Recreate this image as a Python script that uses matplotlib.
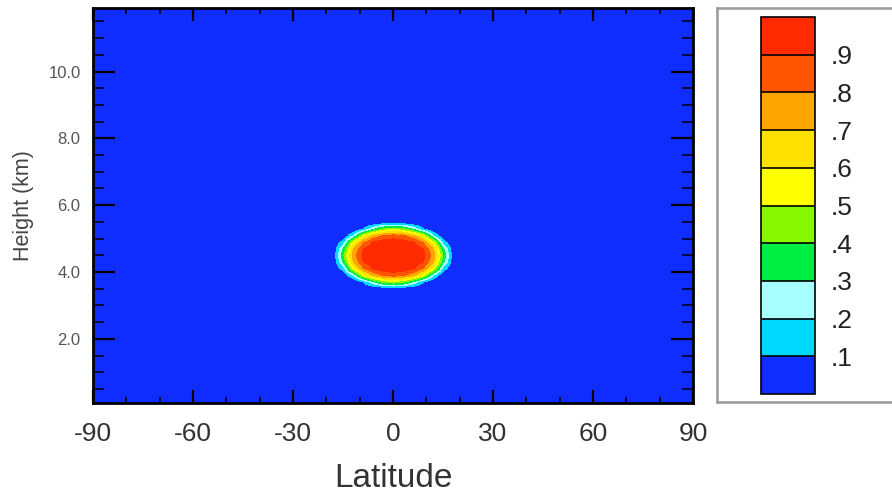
import numpy as np
import matplotlib
matplotlib.use("Agg")
import matplotlib.pyplot as plt
from matplotlib.colors import ListedColormap, BoundaryNorm
from matplotlib.cm import ScalarMappable
from matplotlib.ticker import MultipleLocator, FormatStrFormatter

plt.rcParams['font.family'] = ['Liberation Sans', 'DejaVu Sans']
plt.rcParams['axes.unicode_minus'] = False

# field values (blob around lat 0, 4.5 km)
lats = [-21, -18, -15, -12, -9, -6, -3, 0, 3, 6, 9, 12, 15, 18, 21]
heights = [3.3, 3.5, 3.7, 3.9, 4.1, 4.3, 4.5, 4.7, 4.9, 5.1, 5.3, 5.5, 5.7]
field = np.array([
    [0, 0, 0, 0, 0, 0, 0, 0, 0, 0, 0, 0, 0, 0, 0],
    [0, 0, 0, 0, 0, 0, .02, .03, .02, 0, 0, 0, 0, 0, 0],
    [0, 0, 0, 0, .11, .29, .44, .49, .44, .29, .11, 0, 0, 0, 0],
    [0, 0, .01, .21, .54, .73, .82, .86, .82, .73, .54, .21, .01, 0, 0],
    [0, 0, .15, .55, .80, .92, .96, .96, .96, .92, .80, .55, .15, 0, 0],
    [0, .01, .32, .71, .91, .96, .97, .97, .97, .96, .91, .71, .32, .01, 0],
    [0, .03, .39, .76, .93, .96, .97, .98, .97, .96, .93, .76, .39, .03, 0],
    [0, .01, .32, .71, .91, .96, .97, .97, .97, .96, .91, .71, .32, .01, 0],
    [0, 0, .15, .55, .80, .92, .96, .96, .96, .92, .80, .55, .15, 0, 0],
    [0, 0, .01, .21, .54, .73, .82, .86, .82, .73, .54, .21, .01, 0, 0],
    [0, 0, 0, 0, .11, .29, .44, .49, .44, .29, .11, 0, 0, 0, 0],
    [0, 0, 0, 0, 0, 0, .02, .03, .02, 0, 0, 0, 0, 0, 0],
    [0, 0, 0, 0, 0, 0, 0, 0, 0, 0, 0, 0, 0, 0, 0],
])

levels = [0, .1, .2, .3, .4, .5, .6, .7, .8, .9, 1.0]
level_colors = ["#0f2dff", "#00d8ff", "#a8ffff", "#00ee44", "#88f800",
                "#ffff00", "#ffe000", "#ffa500", "#ff5500", "#ff2a00"]
cbar_ticks = [.1, .2, .3, .4, .5, .6, .7, .8, .9]
cbar_labels = [".1", ".2", ".3", ".4", ".5", ".6", ".7", ".8", ".9"]
xticks = [-90, -60, -30, 0, 30, 60, 90]

cmap = ListedColormap(level_colors)
norm = BoundaryNorm(levels, cmap.N)

fig = plt.figure(figsize=(8.92, 4.95), dpi=100)
ax = fig.add_axes([0.1043, 0.1859, 0.6727, 0.7979])
ax.set_facecolor(level_colors[0])

dlat = lats[1] - lats[0]
dh = heights[1] - heights[0]
ax.imshow(field, origin="lower", cmap=cmap, norm=norm, aspect="auto",
          interpolation="bilinear", interpolation_stage="data",
          extent=(lats[0] - dlat / 2, lats[-1] + dlat / 2,
                  heights[0] - dh / 2, heights[-1] + dh / 2))

ax.set_xlim(-90, 90)
ax.set_ylim(0.08, 11.9)
ax.set_xticks(xticks)
ax.xaxis.set_minor_locator(MultipleLocator(10))
ax.yaxis.set_minor_locator(MultipleLocator(0.5))
ax.set_yticks([2, 4, 6, 8, 10])
ax.yaxis.set_major_formatter(FormatStrFormatter("%.1f"))

for s in ax.spines.values():
    s.set_linewidth(2)
    s.set_color("black")
ax.tick_params(axis="both", which="both", direction="in", top=True, right=True, color="black")
ax.tick_params(axis="y", which="major", length=16, width=1.6, labelsize=12, labelcolor="#555555", pad=9)
ax.tick_params(axis="y", which="minor", length=8, width=1.1)
ax.tick_params(axis="x", which="major", length=9.5, width=1.6, labelsize=19, labelcolor="#333333", pad=14)
ax.tick_params(axis="x", which="minor", length=4, width=1.1)

ax.set_xlabel("Latitude", fontsize=24, color="#333333", labelpad=12)
ax.set_ylabel("Height (km)", fontsize=15.5, color="#444444", labelpad=10)

# legend box around the colour bar
bax = fig.add_axes([0.8038, 0.1879, 0.25, 0.7959])
bax.set_xticks([])
bax.set_yticks([])
for s in bax.spines.values():
    s.set_color("#999999")
    s.set_linewidth(1.8)

cax = fig.add_axes([0.8531, 0.204, 0.0605, 0.7616])
cb = fig.colorbar(ScalarMappable(norm=norm, cmap=cmap), cax=cax,
                  ticks=cbar_ticks, drawedges=True)
cb.minorticks_off()
cb.ax.set_yticklabels(cbar_labels)
cb.ax.tick_params(which="both", length=0, labelsize=19, labelcolor="#222222", pad=11)
cb.outline.set_linewidth(1.2)
cb.outline.set_edgecolor("black")
cb.dividers.set_color("black")
cb.dividers.set_linewidth(1.2)

fig.savefig("out.png", dpi=100)
